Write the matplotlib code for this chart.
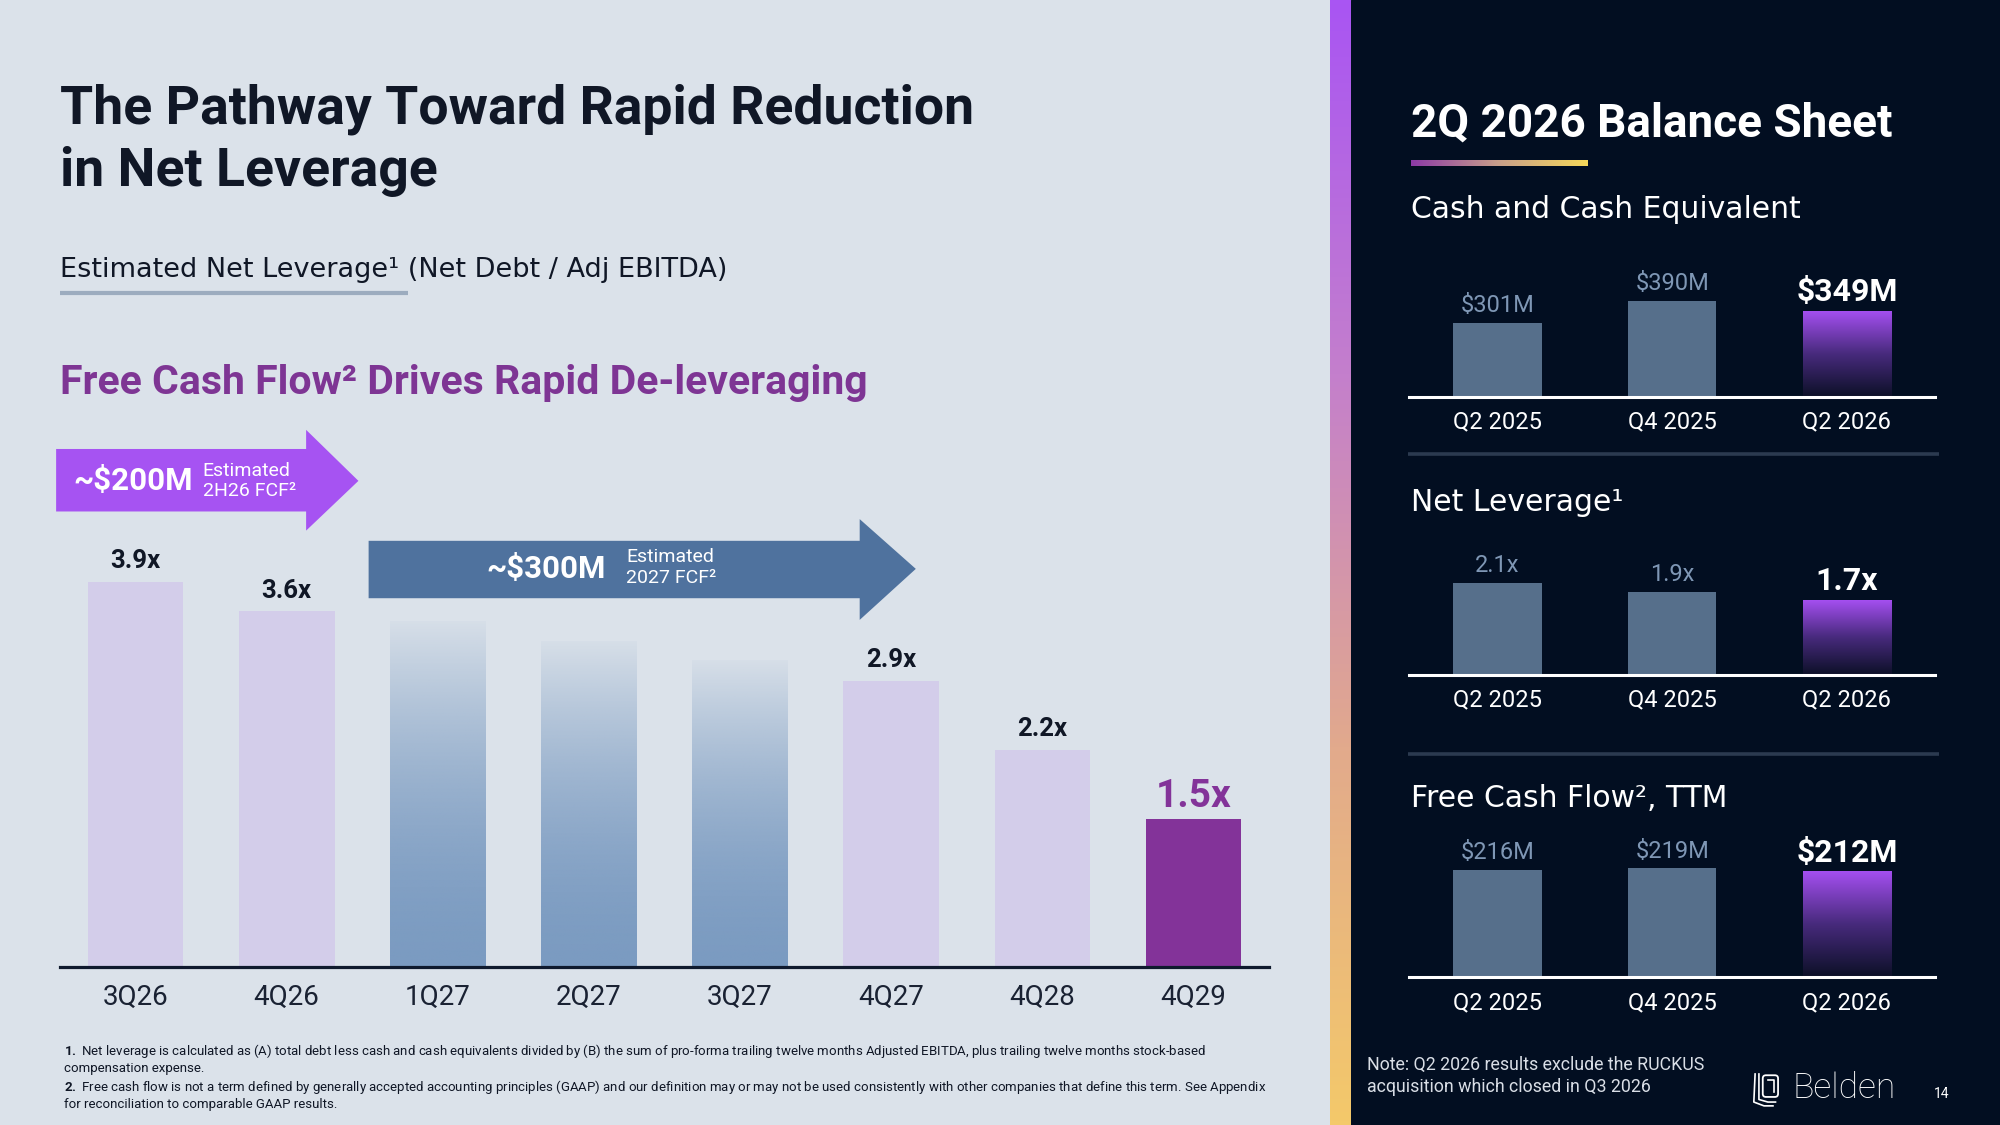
import numpy as np
import matplotlib
matplotlib.use("Agg")
import matplotlib.pyplot as plt
from matplotlib.patches import Polygon, Rectangle, FancyBboxPatch
from matplotlib.colors import to_rgb, LinearSegmentedColormap

# ---------------- data ----------------
quarters = ["3Q26", "4Q26", "1Q27", "2Q27", "3Q27", "4Q27", "4Q28", "4Q29"]
leverage = [3.9, 3.6, 3.5, 3.3, 3.1, 2.9, 2.2, 1.5]
leverage_labels = ["3.9x", "3.6x", "", "", "", "2.9x", "2.2x", "1.5x"]
bar_style = ["light", "light", "fade", "fade", "fade", "light", "light", "target"]

bs_periods = ["Q2 2025", "Q4 2025", "Q2 2026"]
cash_values = [301, 390, 349]
cash_labels = ["$301M", "$390M", "$349M"]
netlev_values = [2.1, 1.9, 1.7]
netlev_labels = ["2.1x", "1.9x", "1.7x"]
fcf_values = [216, 219, 212]
fcf_labels = ["$216M", "$219M", "$212M"]

footnotes = [
    "Net leverage is calculated as (A) total debt less cash and cash equivalents divided by (B) the sum of pro-forma trailing twelve months Adjusted EBITDA, plus trailing twelve months stock-based",
    "compensation expense.",
    "Free cash flow is not a term defined by generally accepted accounting principles (GAAP) and our definition may or may not be used consistently with other companies that define this term. See Appendix",
    "for reconciliation to comparable GAAP results.",
]

# ---------------- style ----------------
plt.rcParams['font.family'] = ['Roboto', 'DejaVu Sans']
plt.rcParams['mathtext.fontset'] = 'custom'
plt.rcParams['mathtext.bf'] = 'Roboto:bold'
plt.rcParams['mathtext.rm'] = 'Roboto'

LEFT_BG = '#dbe2ea'
RIGHT_BG = '#020e21'
DARK = '#101726'
PURPLE = '#7e3594'
SPACED = ['DejaVu Sans']

W, H = 1568, 882
fig = plt.figure(figsize=(20, 11.25), dpi=100)

bg = fig.add_axes([0, 0, 1, 1])
bg.axis('off')
bg.add_patch(Rectangle((0, 0), 1043, H, color=LEFT_BG, zorder=0))
bg.add_patch(Rectangle((1059, 0), W - 1059, H, color=RIGHT_BG, zorder=0))
stripe_cmap = LinearSegmentedColormap.from_list('stripe', ['#a955f3', '#c47fcc', '#e2aa8c', '#f4c96a'])
bg.imshow(np.linspace(0, 1, 256)[:, None], cmap=stripe_cmap, extent=[1043, 1059, H, 0],
          aspect='auto', zorder=1)

# ---------------- left texts ----------------
bg.text(47, 97, "The Pathway Toward Rapid Reduction", fontsize=38.5, fontweight='bold',
        color=DARK, va='baseline', ha='left')
bg.text(47, 146, "in Net Leverage", fontsize=38.5, fontweight='bold',
        color=DARK, va='baseline', ha='left')
bg.text(47, 217, "Estimated Net Leverage¹ (Net Debt / Adj EBITDA)", fontsize=19.5,
        color=DARK, va='baseline', ha='left', family=SPACED)
bg.plot([47, 320], [230, 230], color='#9cacbf', lw=3, solid_capstyle='butt', zorder=2)
bg.text(47, 309, "Free Cash Flow² Drives Rapid De-leveraging", fontsize=29.5, fontweight='bold',
        color=PURPLE, va='baseline', ha='left')

# arrows
arrow1 = [(44, 352), (240, 352), (240, 337), (281, 377), (240, 416), (240, 401), (44, 401)]
arrow2 = [(289, 424), (674, 424), (674, 407), (718, 446), (674, 486), (674, 469), (289, 469)]
bg.add_patch(Polygon(arrow1, closed=True, color='#a653f2', zorder=2, lw=0))
bg.add_patch(Polygon(arrow2, closed=True, color='#4f729e', zorder=2, lw=0))
bg.text(104, 377, "~$200M", fontsize=22.5, fontweight='bold', color='white', ha='center', va='center', zorder=3)
bg.text(159, 369, "Estimated", fontsize=14, color='white', ha='left', va='center', zorder=3)
bg.text(159, 385, "2H26 FCF²", fontsize=14, color='white', ha='left', va='center', zorder=3)
bg.text(428, 446, "~$300M", fontsize=22.5, fontweight='bold', color='white', ha='center', va='center', zorder=3)
bg.text(491, 437, "Estimated", fontsize=14, color='white', ha='left', va='center', zorder=3)
bg.text(491, 453, "2027 FCF²", fontsize=14, color='white', ha='left', va='center', zorder=3)

# footnotes
fy = [824, 838, 852, 866]
fs_fn = 9.5
bg.text(50, fy[0], r"$\mathbf{1.}$ " + footnotes[0], fontsize=fs_fn, color=DARK, va='center', ha='left')
bg.text(50, fy[1], footnotes[1], fontsize=fs_fn, color=DARK, va='center', ha='left')
bg.text(50, fy[2], r"$\mathbf{2.}$ " + footnotes[2], fontsize=fs_fn, color=DARK, va='center', ha='left')
bg.text(50, fy[3], footnotes[3], fontsize=fs_fn, color=DARK, va='center', ha='left')

# ---------------- right texts ----------------
bg.text(1106, 107, "2Q 2026 Balance Sheet", fontsize=33, fontweight='bold', color='white',
        va='baseline', ha='left')
ul_cmap = LinearSegmentedColormap.from_list('ul', ['#8c3aa6', '#c9a08a', '#f6d85a'])
bg.imshow(np.linspace(0, 1, 256)[None, :], cmap=ul_cmap, extent=[1106, 1244, 130, 126],
          aspect='auto', zorder=2)
for yb, t in [(171, "Cash and Cash Equivalent"), (401, "Net Leverage¹"), (633, "Free Cash Flow², TTM")]:
    bg.text(1106, yb, t, fontsize=21.5, color='white', va='baseline', ha='left', family=SPACED)
for ys in [356, 591]:
    bg.plot([1104, 1520], [ys, ys], color='#2b3a50', lw=2.6, solid_capstyle='butt', zorder=2)

bg.text(1072, 835, "Note: Q2 2026 results exclude the RUCKUS", fontsize=12.8, color='#d9dee6',
        va='center', ha='left')
bg.text(1072, 852, "acquisition which closed in Q3 2026", fontsize=12.8, color='#d9dee6',
        va='center', ha='left')

# Belden logo (simple line icon) + wordmark
lc = 'white'
bg.add_patch(FancyBboxPatch((1382, 843), 12, 17, boxstyle="round,pad=0,rounding_size=2.5",
                            fill=False, ec=lc, lw=1.3, zorder=3))
bg.plot([1386, 1391, 1391], [847, 847, 856], color=lc, lw=1.2, zorder=3)
bg.plot([1379, 1379, 1386, 1392], [842, 862, 864, 864], color=lc, lw=1.2, zorder=3)
bg.plot([1376, 1375, 1383, 1390], [842, 864, 867, 867], color=lc, lw=1.2, zorder=3)
bg.text(1405, 853, "Belden", fontsize=25.5, fontweight='light', color='white', va='center', ha='left')
bg.text(1522, 858, "14", fontsize=10, color='white', va='center', ha='center')

bg.set_xlim(0, W)
bg.set_ylim(H, 0)


def add_ax(x0, y0, x1, y1):
    a = fig.add_axes([x0 / W, 1 - y1 / H, (x1 - x0) / W, (y1 - y0) / H])
    a.patch.set_alpha(0)
    for s in ['top', 'left', 'right']:
        a.spines[s].set_visible(False)
    a.set_yticks([])
    return a


# ---------------- main leverage chart ----------------
ax = add_ax(47, 330, 995, 758)
xpos = np.arange(len(quarters))
fill = {'light': '#d3cdea', 'fade': 'none', 'target': '#833399'}
bars = ax.bar(xpos, leverage, width=0.633, color=[fill[s] for s in bar_style], lw=0, zorder=2)
tvals = np.linspace(0, 1, 256)
for b, s in zip(bars, bar_style):
    if s == 'fade':
        x0, w, h = b.get_x(), b.get_width(), b.get_height()
        rgba = np.zeros((256, 1, 4))
        rgba[..., :3] = to_rgb('#7b9bc1')
        rgba[:, 0, 3] = 1 - 0.95 * tvals ** 1.8
        ax.imshow(rgba, extent=[x0, x0 + w, 0, h], origin='lower', aspect='auto', zorder=2)
for b, lab, s in zip(bars, leverage_labels, bar_style):
    if not lab:
        continue
    cx = b.get_x() + b.get_width() / 2
    if s == 'target':
        ax.annotate(lab, (cx, b.get_height()), xytext=(0, 3), textcoords='offset points',
                    ha='center', va='bottom', fontsize=28, fontweight='bold', color='#833399')
    else:
        ax.annotate(lab, (cx, b.get_height()), xytext=(0, 6), textcoords='offset points',
                    ha='center', va='bottom', fontsize=18.5, fontweight='bold', color=DARK)
ax.set_xticks(xpos)
ax.set_xticklabels(quarters)
ax.tick_params(axis='x', length=0, pad=12, labelsize=20, labelcolor='#1a2233')
ax.spines['bottom'].set_color('#0f1a2e')
ax.spines['bottom'].set_linewidth(2.3)
ax.set_xlim(-0.5, 7.5)
ax.set_ylim(0, 5.53)

# ---------------- balance sheet mini charts ----------------
hl_cmap = LinearSegmentedColormap.from_list('hl', ['#0c1027', '#472a7c', '#a44ff0'])


def mini_chart(y_top, y_base, values, labels, ymax):
    a = add_ax(1105, y_top, 1517, y_base)
    xp = np.arange(len(values))
    bb = a.bar(xp, values, width=0.504, color=['#566f8b', '#566f8b', 'none'], lw=0, zorder=2)
    last = bb[-1]
    x0, w, h = last.get_x(), last.get_width(), last.get_height()
    a.imshow(np.linspace(0, 1, 256)[:, None], cmap=hl_cmap, extent=[x0, x0 + w, 0, h],
             origin='lower', aspect='auto', zorder=2)
    for i, (b, lab) in enumerate(zip(bb, labels)):
        cx = b.get_x() + b.get_width() / 2
        if i == len(values) - 1:
            a.annotate(lab, (cx, b.get_height()), xytext=(0, 3), textcoords='offset points',
                       ha='center', va='bottom', fontsize=23, fontweight='bold', color='white')
        else:
            a.annotate(lab, (cx, b.get_height()), xytext=(0, 4), textcoords='offset points',
                       ha='center', va='bottom', fontsize=17, color='#7f97b5')
    a.set_xticks(xp)
    a.set_xticklabels(bs_periods)
    a.tick_params(axis='x', length=0, pad=10, labelsize=17, labelcolor='white')
    a.spines['bottom'].set_color('white')
    a.spines['bottom'].set_linewidth(2.2)
    a.set_xlim(-0.504, 2.504)
    a.set_ylim(0, ymax)
    return a


mini_chart(200, 311, cash_values, cash_labels, 575)
mini_chart(420, 529, netlev_values, netlev_labels, 3.18)
mini_chart(645, 766, fcf_values, fcf_labels, 311)

fig.savefig("out.png", dpi=100)
